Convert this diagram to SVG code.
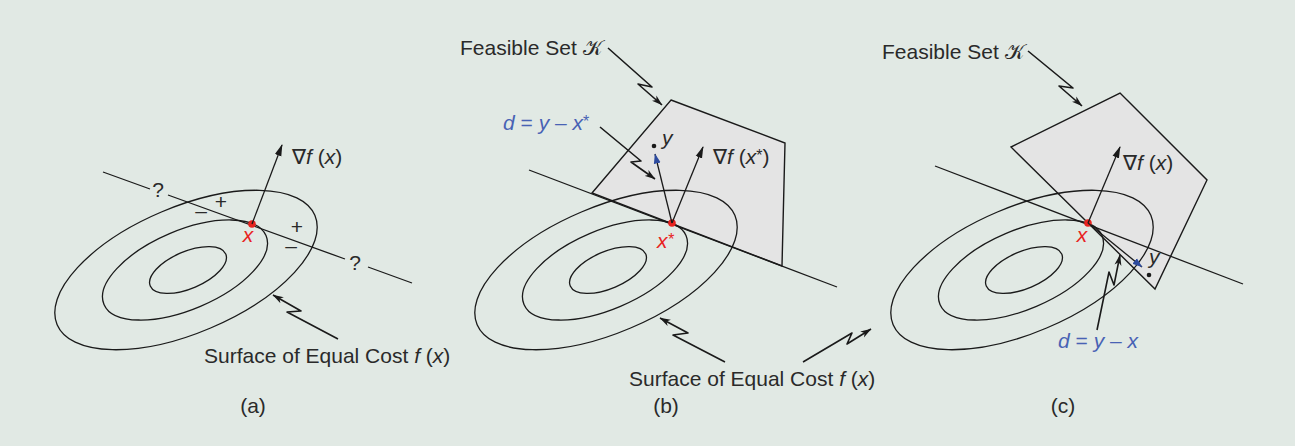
<svg xmlns="http://www.w3.org/2000/svg" width="1295" height="446" viewBox="0 0 1295 446">
<defs>
<style>
.bg{fill:#e1e9e4}
.ln{fill:none;stroke:#1a1a1a;stroke-width:1.3}
.el{fill:none;stroke:#1a1a1a;stroke-width:1.3}
.poly{fill:#e4e4e4;stroke:#1a1a1a;stroke-width:1.4;stroke-linejoin:miter}
.arr{fill:none;stroke:#1a1a1a;stroke-width:1.3;marker-end:url(#ah)}
.darr{fill:none;stroke:#1a1a1a;stroke-width:1.3;marker-end:url(#bh)}
.zz{fill:none;stroke:#1a1a1a;stroke-width:1.6;stroke-linejoin:round;marker-end:url(#zh)}
text{font-family:"Liberation Sans",Arial,sans-serif;font-size:21px;fill:#2a2a2a}
.it{font-style:italic}
.red{fill:#e8231f}
.blue{fill:#4862b4}
.dot{fill:#1a1a1a}
.pt{fill:#e8231f}
.st{font-size:16px}
</style>
<marker id="ah" viewBox="0 0 12 8" refX="11" refY="4" markerWidth="12" markerHeight="8" markerUnits="userSpaceOnUse" orient="auto">
<path d="M0,0.6 L12,4 L0,7.4 Z" fill="#1a1a1a"/>
</marker>
<marker id="bh" viewBox="0 0 10 8" refX="9.5" refY="4" markerWidth="10" markerHeight="8" markerUnits="userSpaceOnUse" orient="auto">
<path d="M0,0.5 L10,4 L0,7.5 Z" fill="#2d4a9e"/>
</marker>
<marker id="zh" viewBox="0 0 11 8" refX="10.5" refY="4" markerWidth="11" markerHeight="8" markerUnits="userSpaceOnUse" orient="auto">
<path d="M0,0.5 L11,4 L0,7.5 L3,4 Z" fill="#1a1a1a"/>
</marker>
</defs>
<rect class="bg" x="0" y="0" width="1295" height="446"/>

<g id="panel-a">
  <g id="a-ellipses">
    <ellipse class="el" cx="186" cy="270" rx="140" ry="63" transform="rotate(-23 186 270)"/>
    <ellipse class="el" cx="185" cy="270" rx="88" ry="39.5" transform="rotate(-23 185 270)"/>
    <ellipse class="el" cx="188" cy="270" rx="41" ry="18.5" transform="rotate(-23 188 270)"/>
  </g>
  <g id="a-line">
    <path class="ln" d="M103,172 L150,189 M168,195 L345,259 M368,267 L412,283"/>
  </g>
  <text x="158" y="197" text-anchor="middle">?</text>
  <text x="355" y="270" text-anchor="middle">?</text>
  <text x="221" y="209" text-anchor="middle">+</text>
  <text x="201" y="218" text-anchor="middle">–</text>
  <text x="297" y="234" text-anchor="middle">+</text>
  <text x="291" y="253" text-anchor="middle">–</text>
  <g id="a-x">
    <circle class="pt" cx="252" cy="224" r="3.8"/>
    <text class="it red" x="248" y="242" text-anchor="middle">x</text>
  </g>
  <g id="a-grad">
    <text x="292" y="164">∇<tspan class="it">f</tspan> (<tspan class="it">x</tspan>)</text>
  </g>
  <g id="a-surface-label">
    <text x="204" y="363">Surface of Equal Cost <tspan class="it">f</tspan> (<tspan class="it">x</tspan>)</text>
  </g>
  <text x="253" y="413" text-anchor="middle">(a)</text>
</g>

<g id="panel-b">
  <g id="b-feasible">
    <polygon class="poly" points="671,100 785,143 782,266 592,193"/>
  </g>
  <g id="b-ellipses">
    <ellipse class="el" cx="606" cy="270" rx="140" ry="63" transform="rotate(-23 606 270)"/>
    <ellipse class="el" cx="605" cy="270" rx="88" ry="39.5" transform="rotate(-23 605 270)"/>
    <ellipse class="el" cx="608" cy="270" rx="41" ry="18.5" transform="rotate(-23 608 270)"/>
  </g>
  <g id="b-line">
    <path class="ln" d="M529,170 L837,287"/>
  </g>
  <g id="b-y">
    <circle class="dot" cx="654" cy="146" r="2.3"/>
    <text class="it" x="662" y="145">y</text>
  </g>
  <g id="b-x">
    <circle class="pt" cx="672" cy="223" r="3.8"/>
    <text class="it red" x="657" y="248">x<tspan class="st" dy="-3">*</tspan></text>
  </g>
  <g id="b-grad">
    <text x="713" y="164">∇<tspan class="it">f</tspan> (<tspan class="it">x</tspan><tspan class="st" dy="-3">*</tspan><tspan dy="3">)</tspan></text>
  </g>
  <g id="b-d-label">
    <text class="blue" x="503" y="130"><tspan class="it">d</tspan> = <tspan class="it">y</tspan> – <tspan class="it">x</tspan><tspan class="st" dy="-3">*</tspan></text>
  </g>
  <text x="460" y="55">Feasible Set 𝒦</text>
  <g id="b-surface-label">
    <text x="629" y="386">Surface of Equal Cost <tspan class="it">f</tspan> (<tspan class="it">x</tspan>)</text>
  </g>
  <text x="666" y="413" text-anchor="middle">(b)</text>
</g>

<g id="panel-c">
  <g id="c-feasible">
    <polygon class="poly" points="1120,93 1207,180 1155,289 1011,147"/>
  </g>
  <g id="c-ellipses">
    <ellipse class="el" cx="1022" cy="270" rx="140" ry="63" transform="rotate(-23 1022 270)"/>
    <ellipse class="el" cx="1021" cy="270" rx="88" ry="39.5" transform="rotate(-23 1021 270)"/>
    <ellipse class="el" cx="1024" cy="270" rx="41" ry="18.5" transform="rotate(-23 1024 270)"/>
  </g>
  <g id="c-line">
    <path class="ln" d="M935,166 L1243,284"/>
  </g>
  <g id="c-y">
    <circle class="dot" cx="1149" cy="275" r="2.3"/>
    <text class="it" x="1149" y="264">y</text>
  </g>
  <g id="c-x">
    <circle class="pt" cx="1088" cy="223" r="3.8"/>
    <text class="it red" x="1082" y="242" text-anchor="middle">x</text>
  </g>
  <g id="c-grad">
    <text x="1123" y="170">∇<tspan class="it">f</tspan> (<tspan class="it">x</tspan>)</text>
  </g>
  <g id="c-d-label">
    <text class="blue" x="1058" y="348"><tspan class="it">d</tspan> = <tspan class="it">y</tspan> – <tspan class="it">x</tspan></text>
  </g>
  <text x="882" y="59">Feasible Set 𝒦</text>
  <text x="1063" y="413" text-anchor="middle">(c)</text>
</g>

<g id="connectors">
  <path class="arr" d="M252,224 L282,145"/>
  <path class="arr" d="M672,223 L703,147"/>
  <path class="darr" d="M672,223 L655,154"/>
  <path class="arr" d="M1088,223 L1120,147"/>
  <path class="darr" d="M1088,223 L1142,267"/>
  <path class="zz" d="M338,339 L287,312 L301,311 L273,295"/>
  <path class="zz" d="M608,48 L652,87 L638,84 L662,105"/>
  <path class="zz" d="M600,127 L641,161 L631,162 L655,179"/>
  <path class="zz" d="M725,362 L673,335 L688,333 L660,318"/>
  <path class="zz" d="M803,362 L852,333 L847,344 L871,329"/>
  <path class="zz" d="M1028,51 L1073,88 L1059,86 L1082,106"/>
  <path class="zz" d="M1097,330 L1109,272 L1114,285 L1120,255"/>
</g>
</svg>
